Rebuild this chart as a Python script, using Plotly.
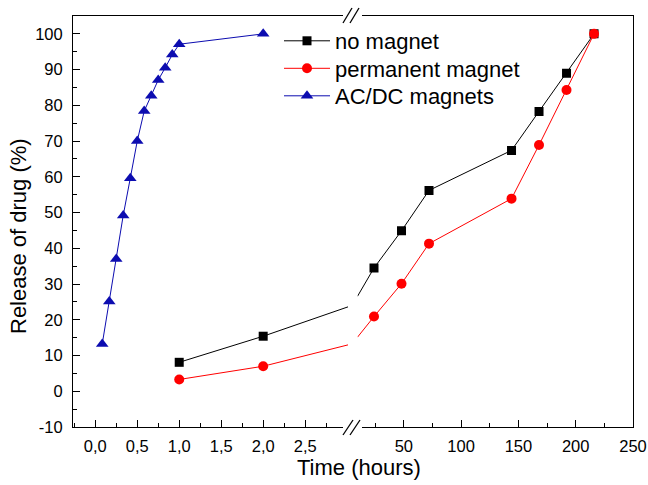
import plotly.graph_objects as go

# ---------------- data ----------------
hours_acdc = [0.083, 0.167, 0.25, 0.333, 0.417, 0.5, 0.583, 0.667, 0.75, 0.833, 0.917, 1.0, 2.0]
release_acdc = [13.2, 25.1, 37.0, 49.2, 59.6, 70.0, 78.4, 82.7, 87.1, 90.5, 94.2, 97.1, 100.0]

hours_mag = [1, 2, 24, 48, 72, 144, 168, 192, 216]
release_none = [8.1, 15.4, 34.5, 44.9, 56.2, 67.4, 78.3, 89.0, 100.0]
release_perm = [3.3, 7.0, 20.9, 30.1, 41.3, 53.9, 68.9, 84.3, 100.0]

left_tickvals = [0, 0.5, 1.0, 1.5, 2.0, 2.5]
left_ticktext = ["0,0", "0,5", "1,0", "1,5", "2,0", "2,5"]
right_tickvals = [50, 100, 150, 200, 250]
right_ticktext = ["50", "100", "150", "200", "250"]
y_tickvals = [-10, 0, 10, 20, 30, 40, 50, 60, 70, 80, 90, 100]
y_ticktext = ["-10", "0", "10", "20", "30", "40", "50", "60", "70", "80", "90", "100"]

# ---------------- layout constants ----------------
W, H = 648, 485
ML, MR, MT, MB = 73, 15, 16, 58
PW, PH = W - ML - MR, H - MT - MB
LEFT_END_PX, RIGHT_START_PX = 348, 357.5
left_range = [-0.265, 3.01]
right_range = [9.6, 250]
FRAC_L, FRAC_R = 0.43, 0.585  # how the connecting line is split across the break
FONT = "Liberation Sans, Arial, sans-serif"
LEGEND_ROWS_PX = [41, 68.5, 96]


def px_x(p):
    return (p - ML) / PW


def px_y(p):
    return (MT + PH - p) / PH


fig = go.Figure()


def add_series(xs, ys, name, color, symbol, size, legend_id):
    left = [(x, y) for x, y in zip(xs, ys) if x <= left_range[1]]
    right = [(x, y) for x, y in zip(xs, ys) if x >= right_range[0]]
    line = dict(color=color, width=1)
    marker = dict(symbol=symbol, size=size, color=color, line=dict(width=0))
    if left and right:
        (xa, ya), (xb, yb) = left[-1], right[0]
        fig.add_trace(go.Scatter(x=[xa, left_range[1]], y=[ya, ya + FRAC_L * (yb - ya)],
                                 mode="lines", line=line, showlegend=False, hoverinfo="skip",
                                 xaxis="x", yaxis="y"))
        fig.add_trace(go.Scatter(x=[right_range[0], xb], y=[ya + FRAC_R * (yb - ya), yb],
                                 mode="lines", line=line, showlegend=False, hoverinfo="skip",
                                 xaxis="x2", yaxis="y2"))
    shown = False
    if left:
        fig.add_trace(go.Scatter(x=[p[0] for p in left], y=[p[1] for p in left],
                                 mode="lines+markers", name=name, legend=legend_id,
                                 line=line, marker=marker, showlegend=True,
                                 xaxis="x", yaxis="y"))
        shown = True
    if right:
        fig.add_trace(go.Scatter(x=[p[0] for p in right], y=[p[1] for p in right],
                                 mode="lines+markers", name=name, legend=legend_id,
                                 line=line, marker=marker, showlegend=not shown,
                                 xaxis="x2", yaxis="y2"))


add_series(hours_mag, release_none, "no magnet", "#000000", "square", 9, "legend")
add_series(hours_mag, release_perm, "permanent magnet", "#ff0000", "circle", 10, "legend2")
add_series(hours_acdc, release_acdc, "AC/DC magnets", "#0c0cb0", "triangle-up", 11, "legend3")

axis_common = dict(showgrid=False, zeroline=False, showline=True, linecolor="black",
                   linewidth=1, ticks="inside", ticklen=7, tickwidth=1, tickcolor="black",
                   automargin=False,
                   tickfont=dict(family=FONT, size=16.5, color="black"))


def legend_at(row_px):
    return dict(x=px_x(279), y=px_y(row_px), xanchor="left", yanchor="middle",
                bgcolor="rgba(0,0,0,0)", borderwidth=0, itemwidth=46,
                font=dict(family=FONT, size=22, color="black"))


fig.update_layout(
    width=W, height=H, autosize=False,
    margin=dict(l=ML, r=MR, t=MT, b=MB, autoexpand=False),
    paper_bgcolor="white", plot_bgcolor="white",
    font=dict(family=FONT, color="black"),
    xaxis=dict(domain=[0, px_x(LEFT_END_PX)], range=left_range, anchor="y",
               tickvals=left_tickvals, ticktext=left_ticktext, mirror=True,
               ticklabelstandoff=4,
               minor=dict(dtick=0.25, tick0=0, ticks="inside", ticklen=4, tickcolor="black"),
               **axis_common),
    xaxis2=dict(domain=[px_x(RIGHT_START_PX), 1], range=right_range, anchor="y2",
                tickvals=right_tickvals, ticktext=right_ticktext, mirror=True,
                ticklabelstandoff=4,
                minor=dict(dtick=25, tick0=0, ticks="inside", ticklen=4, tickcolor="black"),
                **axis_common),
    yaxis=dict(domain=[0, 1], range=[-10, 105], anchor="x",
               tickvals=y_tickvals, ticktext=y_ticktext, ticklabelstandoff=6,
               minor=dict(dtick=5, tick0=0, ticks="inside", ticklen=4, tickcolor="black"),
               **axis_common),
    yaxis2=dict(domain=[0, 1], range=[-10, 105], matches="y", anchor="x2", side="right",
                showgrid=False, zeroline=False, showline=True, linecolor="black", linewidth=1,
                ticks="", showticklabels=False, automargin=False),
    legend=legend_at(LEGEND_ROWS_PX[0]),
    legend2=legend_at(LEGEND_ROWS_PX[1]),
    legend3=legend_at(LEGEND_ROWS_PX[2]),
    showlegend=True,
)

# axis titles
fig.add_annotation(text="Time (hours)", xref="paper", yref="paper",
                   x=px_x(359), y=px_y(467), xanchor="center", yanchor="middle",
                   showarrow=False, font=dict(family=FONT, size=22, color="black"))
fig.add_annotation(text="Release of drug (%)", xref="paper", yref="paper",
                   x=px_x(18), y=px_y(236), xanchor="center", yanchor="middle",
                   textangle=-90, showarrow=False, font=dict(family=FONT, size=22, color="black"))

# widen axis gap and draw break marks
for (x0, x1) in [(343, LEFT_END_PX + 1), (RIGHT_START_PX - 1, 362)]:
    for yc in (MT, MT + PH):
        fig.add_shape(type="rect", xref="paper", yref="paper",
                      x0=px_x(x0), x1=px_x(x1), y0=px_y(yc + 2), y1=px_y(yc - 2),
                      fillcolor="white", line=dict(width=0), layer="above")
for (xa, ya, xb, yb) in [(343, 435, 353, 420), (350, 435, 360, 420),
                         (343, 23, 352, 8), (350, 23, 359, 8)]:
    fig.add_shape(type="line", xref="paper", yref="paper",
                  x0=px_x(xa), y0=px_y(ya), x1=px_x(xb), y1=px_y(yb),
                  line=dict(color="black", width=1.3), layer="above")

fig.write_html("out.html",
               config={"displayModeBar": False, "responsive": False},
               default_width="648px", default_height="485px",
               post_script="document.body.style.margin='0px';"
                           "document.body.style.overflow='hidden';"
                           "Plotly.relayout('{plot_id}', {width: 648, height: 485});")
